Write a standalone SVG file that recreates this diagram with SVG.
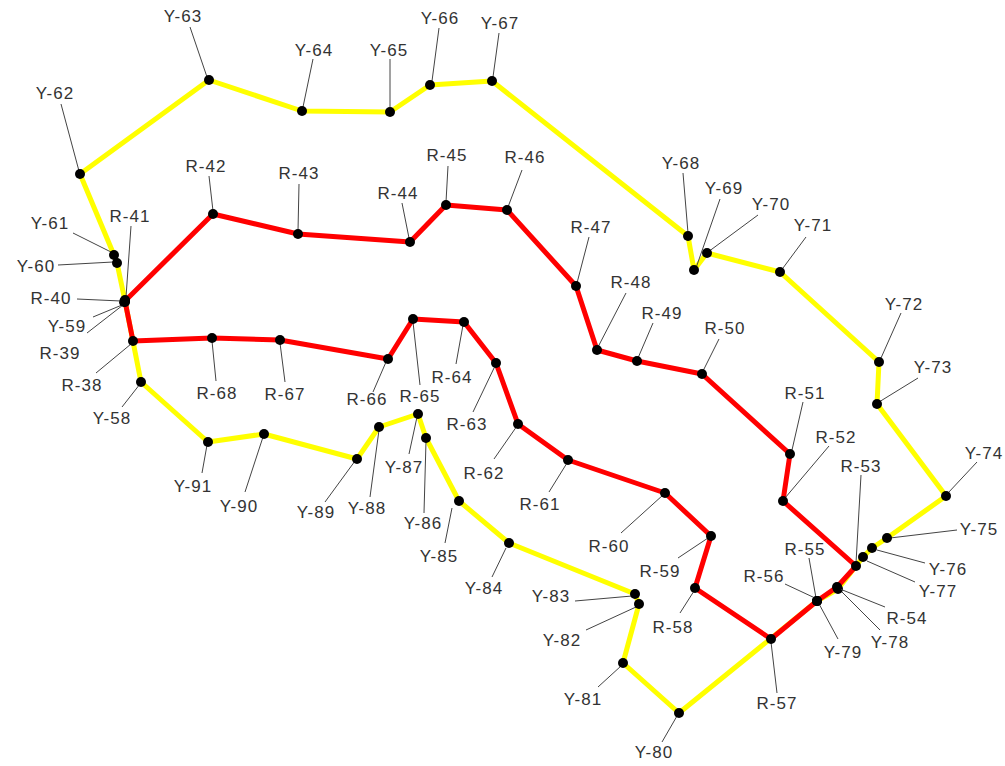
<svg xmlns="http://www.w3.org/2000/svg" width="1005" height="766" viewBox="0 0 1005 766">
<style>
.y{stroke:#ffff00;stroke-width:5;stroke-linecap:round;fill:none}
.r{stroke:#ff0000;stroke-width:5;stroke-linecap:round;fill:none}
.n circle{fill:#000}
.n line{stroke:#444;stroke-width:1}
.n text{font-family:"Liberation Sans",Arial,sans-serif;font-size:17px;fill:#333;text-anchor:middle;letter-spacing:1px}
</style>
<rect width="1005" height="766" fill="#fff"/>
<g id="connectors">
<path class="y" d="M141,382 L125,301 L117,263 L114,255 L80,174 L209,80 L302,111 L390,112 L430,85 L492,81 L688,236 L694,270 L707,253 L780,272 L879,362 L877,404 L946,496 L887,538 L872,548 L863,557 L838,589 L817,601 L679,713 L623,663 L639,604 L635,594 L509,543 L459,501 L426,438 L418,414 L379,427 L357,459 L264,434 L208,442 Z" stroke-linejoin="round"/>
<path class="r" d="M133,341 L125,301 L213,214 L298,234 L410,242 L446,205 L507,210 L576,286 L597,350 L637,361 L702,374 L790,454 L783,501 L856,566 L837,587 L817,601 L771,639 L695,588 L711,536 L665,493 L568,460 L518,424 L496,363 L464,322 L413,319 L388,359 L280,340 L212,338 Z" stroke-linejoin="round"/>
</g>
<g id="Y-58" class="n"><line x1="122" y1="407" x2="140" y2="384"/><circle cx="141" cy="382" r="5"/><text x="112" y="424">Y-58</text></g>
<g id="Y-59" class="n"><line x1="93" y1="317" x2="122" y2="305"/><circle cx="124" cy="302" r="5"/><text x="67" y="332">Y-59</text></g>
<g id="Y-60" class="n"><line x1="58" y1="265" x2="113" y2="262"/><circle cx="117" cy="263" r="5"/><text x="36" y="272">Y-60</text></g>
<g id="Y-61" class="n"><line x1="73" y1="233" x2="113" y2="253"/><circle cx="114" cy="255" r="5"/><text x="50" y="229">Y-61</text></g>
<g id="Y-62" class="n"><line x1="61" y1="104" x2="79" y2="171"/><circle cx="80" cy="174" r="5"/><text x="55" y="99">Y-62</text></g>
<g id="Y-63" class="n"><line x1="190" y1="27" x2="207" y2="77"/><circle cx="209" cy="80" r="5"/><text x="183" y="22">Y-63</text></g>
<g id="Y-64" class="n"><line x1="313" y1="59" x2="303" y2="107"/><circle cx="302" cy="111" r="5"/><text x="314" y="56">Y-64</text></g>
<g id="Y-65" class="n"><line x1="390" y1="59" x2="390" y2="107"/><circle cx="390" cy="112" r="5"/><text x="389" y="56">Y-65</text></g>
<g id="Y-66" class="n"><line x1="439" y1="28" x2="432" y2="81"/><circle cx="430" cy="85" r="5"/><text x="440" y="24">Y-66</text></g>
<g id="Y-67" class="n"><line x1="499" y1="33" x2="493" y2="77"/><circle cx="492" cy="81" r="5"/><text x="500" y="29">Y-67</text></g>
<g id="Y-68" class="n"><line x1="683" y1="173" x2="688" y2="233"/><circle cx="688" cy="236" r="5"/><text x="681" y="169">Y-68</text></g>
<g id="Y-69" class="n"><line x1="720" y1="199" x2="696" y2="268"/><circle cx="694" cy="270" r="5"/><text x="724" y="194">Y-69</text></g>
<g id="Y-70" class="n"><line x1="758" y1="215" x2="708" y2="252"/><circle cx="707" cy="253" r="5"/><text x="771" y="210">Y-70</text></g>
<g id="Y-71" class="n"><line x1="806" y1="237" x2="783" y2="268"/><circle cx="780" cy="272" r="5"/><text x="813" y="231">Y-71</text></g>
<g id="Y-72" class="n"><line x1="901" y1="313" x2="881" y2="358"/><circle cx="879" cy="362" r="5"/><text x="904" y="310">Y-72</text></g>
<g id="Y-73" class="n"><line x1="918" y1="378" x2="879" y2="402"/><circle cx="877" cy="404" r="5"/><text x="933" y="373">Y-73</text></g>
<g id="Y-74" class="n"><line x1="977" y1="462" x2="948" y2="493"/><circle cx="946" cy="496" r="5"/><text x="984" y="459">Y-74</text></g>
<g id="Y-75" class="n"><line x1="957" y1="530" x2="890" y2="538"/><circle cx="887" cy="538" r="5"/><text x="979" y="535">Y-75</text></g>
<g id="Y-76" class="n"><line x1="925" y1="563" x2="877" y2="550"/><circle cx="872" cy="548" r="5"/><text x="948" y="575">Y-76</text></g>
<g id="Y-77" class="n"><line x1="915" y1="582" x2="867" y2="561"/><circle cx="863" cy="557" r="5"/><text x="938" y="597">Y-77</text></g>
<g id="Y-78" class="n"><line x1="880" y1="630" x2="840" y2="590"/><circle cx="838" cy="589" r="5"/><text x="890" y="648">Y-78</text></g>
<g id="Y-79" class="n"><line x1="838" y1="639" x2="818" y2="602"/><circle cx="817" cy="601" r="5"/><text x="843" y="658">Y-79</text></g>
<g id="Y-80" class="n"><line x1="662" y1="742" x2="677" y2="716"/><circle cx="679" cy="713" r="5"/><text x="654" y="758">Y-80</text></g>
<g id="Y-81" class="n"><line x1="598" y1="687" x2="621" y2="666"/><circle cx="623" cy="663" r="5"/><text x="583" y="705">Y-81</text></g>
<g id="Y-82" class="n"><line x1="586" y1="630" x2="636" y2="607"/><circle cx="639" cy="604" r="5"/><text x="562" y="646">Y-82</text></g>
<g id="Y-83" class="n"><line x1="575" y1="601" x2="632" y2="596"/><circle cx="635" cy="594" r="5"/><text x="551" y="602">Y-83</text></g>
<g id="Y-84" class="n"><line x1="492" y1="577" x2="506" y2="548"/><circle cx="509" cy="543" r="5"/><text x="484" y="594">Y-84</text></g>
<g id="Y-85" class="n"><line x1="445" y1="543" x2="452" y2="508"/><circle cx="459" cy="501" r="5"/><text x="439" y="562">Y-85</text></g>
<g id="Y-86" class="n"><line x1="424" y1="513" x2="426" y2="441"/><circle cx="426" cy="438" r="5"/><text x="423" y="529">Y-86</text></g>
<g id="Y-87" class="n"><line x1="409" y1="454" x2="417" y2="417"/><circle cx="418" cy="414" r="5"/><text x="404" y="473">Y-87</text></g>
<g id="Y-88" class="n"><line x1="370" y1="497" x2="379" y2="430"/><circle cx="379" cy="427" r="5"/><text x="367" y="514">Y-88</text></g>
<g id="Y-89" class="n"><line x1="325" y1="502" x2="355" y2="461"/><circle cx="357" cy="459" r="5"/><text x="316" y="518">Y-89</text></g>
<g id="Y-90" class="n"><line x1="245" y1="492" x2="263" y2="437"/><circle cx="264" cy="434" r="5"/><text x="239" y="512">Y-90</text></g>
<g id="Y-91" class="n"><line x1="202" y1="473" x2="207" y2="445"/><circle cx="208" cy="442" r="5"/><text x="193" y="492">Y-91</text></g>
<g id="R-38" class="n"><line x1="96" y1="373" x2="131" y2="344"/><circle cx="133" cy="341" r="5"/><text x="82" y="391">R-38</text></g>
<g id="R-39" class="n"><line x1="87" y1="333" x2="123" y2="305"/><circle cx="125" cy="302" r="5"/><text x="60" y="359">R-39</text></g>
<g id="R-40" class="n"><line x1="77" y1="299" x2="121" y2="301"/><circle cx="125" cy="301" r="5"/><text x="51" y="304">R-40</text></g>
<g id="R-41" class="n"><line x1="131" y1="226" x2="126" y2="297"/><circle cx="125" cy="300" r="5"/><text x="130" y="222">R-41</text></g>
<g id="R-42" class="n"><line x1="209" y1="176" x2="213" y2="211"/><circle cx="213" cy="214" r="5"/><text x="206" y="172">R-42</text></g>
<g id="R-43" class="n"><line x1="299" y1="184" x2="298" y2="231"/><circle cx="298" cy="234" r="5"/><text x="299" y="179">R-43</text></g>
<g id="R-44" class="n"><line x1="402" y1="203" x2="409" y2="238"/><circle cx="410" cy="242" r="5"/><text x="398" y="199">R-44</text></g>
<g id="R-45" class="n"><line x1="448" y1="166" x2="446" y2="202"/><circle cx="446" cy="205" r="5"/><text x="447" y="161">R-45</text></g>
<g id="R-46" class="n"><line x1="522" y1="170" x2="508" y2="207"/><circle cx="507" cy="210" r="5"/><text x="525" y="163">R-46</text></g>
<g id="R-47" class="n"><line x1="589" y1="237" x2="577" y2="283"/><circle cx="576" cy="286" r="5"/><text x="591" y="233">R-47</text></g>
<g id="R-48" class="n"><line x1="626" y1="293" x2="598" y2="347"/><circle cx="597" cy="350" r="5"/><text x="631" y="288">R-48</text></g>
<g id="R-49" class="n"><line x1="653" y1="323" x2="638" y2="358"/><circle cx="637" cy="361" r="5"/><text x="662" y="319">R-49</text></g>
<g id="R-50" class="n"><line x1="719" y1="339" x2="703" y2="371"/><circle cx="702" cy="374" r="5"/><text x="725" y="334">R-50</text></g>
<g id="R-51" class="n"><line x1="803" y1="402" x2="792" y2="450"/><circle cx="790" cy="454" r="5"/><text x="805" y="399">R-51</text></g>
<g id="R-52" class="n"><line x1="829" y1="446" x2="785" y2="498"/><circle cx="783" cy="501" r="5"/><text x="836" y="443">R-52</text></g>
<g id="R-53" class="n"><line x1="861" y1="475" x2="856" y2="563"/><circle cx="856" cy="566" r="5"/><text x="861" y="472">R-53</text></g>
<g id="R-54" class="n"><line x1="885" y1="607" x2="840" y2="589"/><circle cx="837" cy="587" r="5"/><text x="907" y="624">R-54</text></g>
<g id="R-55" class="n"><line x1="809" y1="558" x2="816" y2="598"/><circle cx="817" cy="601" r="5"/><text x="805" y="555">R-55</text></g>
<g id="R-56" class="n"><line x1="785" y1="584" x2="815" y2="598"/><circle cx="817" cy="601" r="5"/><text x="764" y="582">R-56</text></g>
<g id="R-57" class="n"><line x1="777" y1="693" x2="771" y2="642"/><circle cx="771" cy="639" r="5"/><text x="777" y="709">R-57</text></g>
<g id="R-58" class="n"><line x1="680" y1="613" x2="694" y2="591"/><circle cx="695" cy="588" r="5"/><text x="673" y="633">R-58</text></g>
<g id="R-59" class="n"><line x1="678" y1="558" x2="708" y2="538"/><circle cx="711" cy="536" r="5"/><text x="660" y="577">R-59</text></g>
<g id="R-60" class="n"><line x1="621" y1="533" x2="663" y2="495"/><circle cx="665" cy="493" r="5"/><text x="609" y="552">R-60</text></g>
<g id="R-61" class="n"><line x1="549" y1="492" x2="567" y2="463"/><circle cx="568" cy="460" r="5"/><text x="540" y="510">R-61</text></g>
<g id="R-62" class="n"><line x1="494" y1="459" x2="517" y2="426"/><circle cx="518" cy="424" r="5"/><text x="484" y="479">R-62</text></g>
<g id="R-63" class="n"><line x1="473" y1="412" x2="495" y2="366"/><circle cx="496" cy="363" r="5"/><text x="467" y="430">R-63</text></g>
<g id="R-64" class="n"><line x1="456" y1="364" x2="463" y2="325"/><circle cx="464" cy="322" r="5"/><text x="452" y="383">R-64</text></g>
<g id="R-65" class="n"><line x1="420" y1="385" x2="413" y2="322"/><circle cx="413" cy="319" r="5"/><text x="420" y="402">R-65</text></g>
<g id="R-66" class="n"><line x1="373" y1="392" x2="386" y2="362"/><circle cx="388" cy="359" r="5"/><text x="367" y="405">R-66</text></g>
<g id="R-67" class="n"><line x1="285" y1="382" x2="280" y2="343"/><circle cx="280" cy="340" r="5"/><text x="285" y="400">R-67</text></g>
<g id="R-68" class="n"><line x1="216" y1="381" x2="212" y2="341"/><circle cx="212" cy="338" r="5"/><text x="217" y="399">R-68</text></g>
</svg>
